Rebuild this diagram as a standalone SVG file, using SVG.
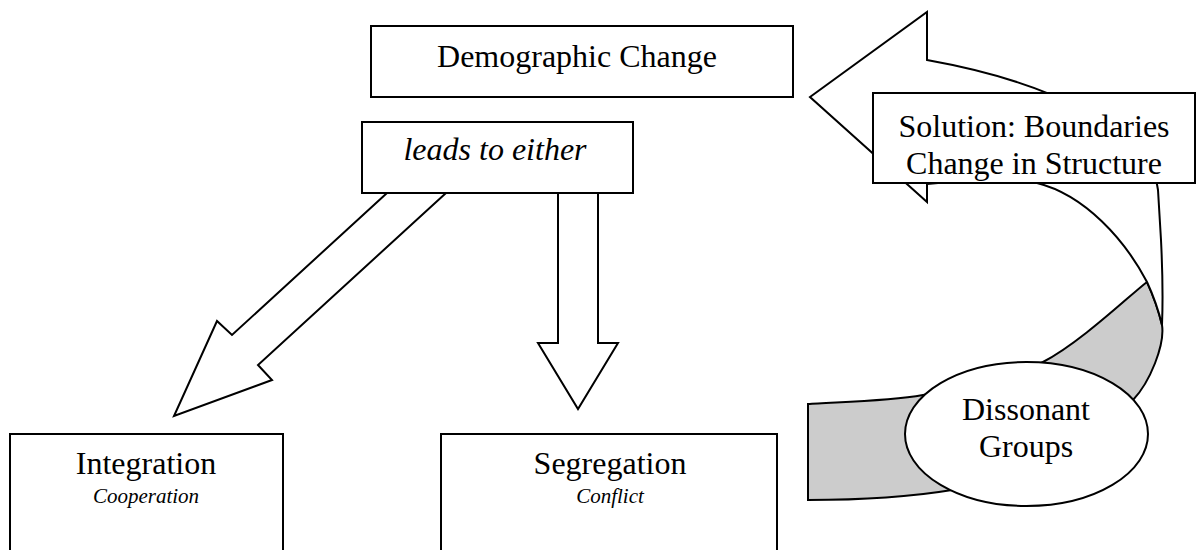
<svg xmlns="http://www.w3.org/2000/svg" width="1196" height="550" viewBox="0 0 1196 550">
  <style>
    .box { fill: #ffffff; stroke: #000000; stroke-width: 2; }
    .arrow { fill: #ffffff; stroke: #000000; stroke-width: 2; stroke-linejoin: miter; }
    .back { fill: #cccccc; stroke: #000000; stroke-width: 2; }
    .t { font-family: "Liberation Serif", "Times New Roman", serif; font-size: 32px; fill: #000000; text-anchor: middle; }
    .ti { font-family: "Liberation Serif", "Times New Roman", serif; font-style: italic; fill: #000000; text-anchor: middle; }
  </style>

  <!-- block arrows and the curved return arrow -->
  <g id="connectors">
    <!-- diagonal block arrow toward Integration -->
    <polygon class="arrow" points="387,193 232,335 217,321 174,416 272,380 258,365 446,193"/>
    <!-- straight block arrow toward Segregation -->
    <polygon class="arrow" points="558,193 558,343 538,343 578,409 618,343 598,343 598,193"/>
    <!-- curved arrow: shaded back of the band -->
    <path class="back" d="M808,404 C827,402 884,402 923,395 C962,388 1006,381 1043,362 C1080,343 1130,295 1147,282 C1153,295 1158,308 1162,325 C1165,345 1150,382 1133,400 C1090,450 1010,480 952,490 C910,497 860,500 808,500 Z"/>
    <!-- curved arrow: front of the band with head pointing left -->
    <path class="arrow" d="M810,97 L927,12 L927,60 C1050,82 1150,130 1158,190 L1161,240 C1163,280 1163,300 1162,325 C1158,308 1153,295 1147,282 C1125,240 1085,195 1037,183 C1010,178 980,180 927,184 L927,202 Z"/>
  </g>

  <g id="demographic-change">
    <rect class="box" x="371" y="26" width="422" height="71"/>
    <text class="t" x="577" y="67">Demographic Change</text>
  </g>

  <g id="leads-to-either">
    <rect class="box" x="362" y="122" width="271" height="71"/>
    <text class="ti" x="495" y="160" font-size="32">leads to either</text>
  </g>

  <g id="integration">
    <rect class="box" x="10" y="434" width="273" height="130"/>
    <text class="t" x="146" y="474">Integration</text>
    <text class="ti" x="146" y="503" font-size="21">Cooperation</text>
  </g>

  <g id="segregation">
    <rect class="box" x="441" y="434" width="336" height="130"/>
    <text class="t" x="610" y="474">Segregation</text>
    <text class="ti" x="610" y="503" font-size="21">Conflict</text>
  </g>

  <g id="solution">
    <rect class="box" x="873" y="93" width="322" height="90"/>
    <text class="t" x="1034" y="137">Solution: Boundaries</text>
    <text class="t" x="1034" y="174">Change in Structure</text>
  </g>

  <g id="dissonant-groups">
    <ellipse class="box" cx="1026.5" cy="434" rx="121.5" ry="72"/>
    <text class="t" x="1026" y="420">Dissonant</text>
    <text class="t" x="1026" y="457">Groups</text>
  </g>
</svg>
